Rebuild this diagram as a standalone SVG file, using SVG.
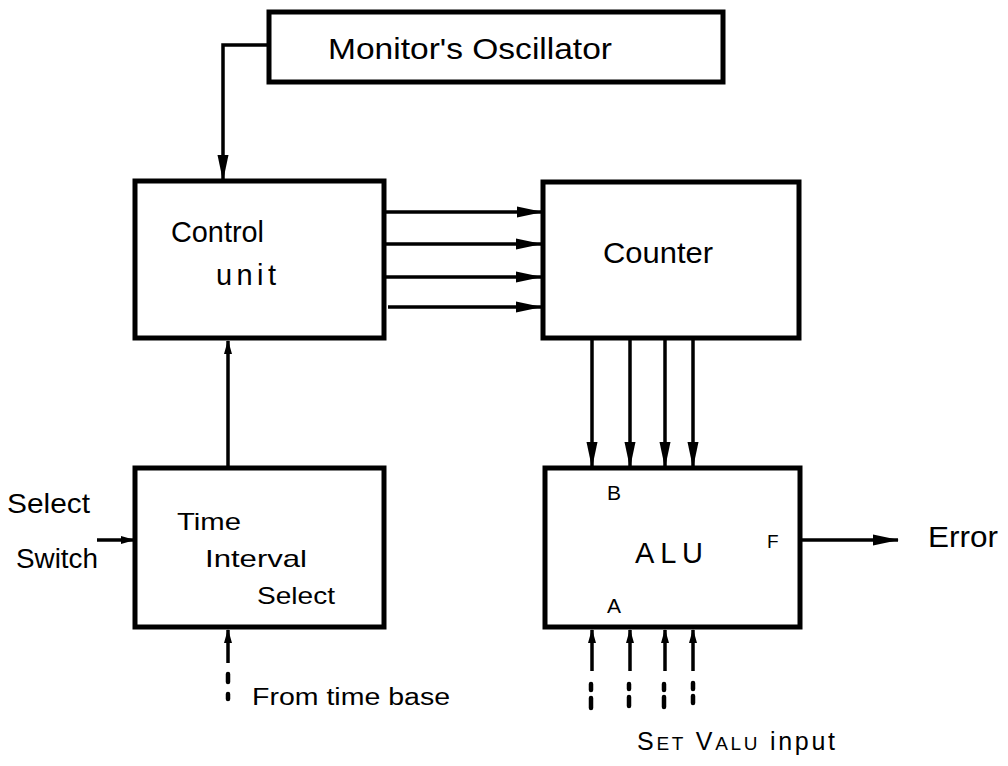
<svg xmlns="http://www.w3.org/2000/svg" width="1008" height="766" viewBox="0 0 1008 766">
<defs>
<marker id="ah" markerWidth="14" markerHeight="8" refX="13" refY="4" orient="auto" markerUnits="userSpaceOnUse" viewBox="0 0 14 8">
<path d="M0,0 L14,4 L0,8 Z" fill="#000"/>
</marker>
<marker id="ahl" markerWidth="26" markerHeight="12" refX="25" refY="6" orient="auto" markerUnits="userSpaceOnUse" viewBox="0 0 26 12">
<path d="M0,0.5 L26,6 L0,11.5 Z" fill="#000"/>
</marker>
</defs>
<style>
.box{fill:#fff;stroke:#000;stroke-width:5}
.ln{fill:none;stroke:#000;stroke-width:3.5}
.dash{fill:none;stroke:#000;stroke-width:4.5;stroke-linecap:round}
text{font-family:"Liberation Sans","DejaVu Sans",sans-serif;fill:#000}
</style>
<rect width="1008" height="766" fill="#fff"/>
<g id="connectors">
<path class="ln" d="M268,45 H223 V180" marker-end="url(#ahl)"/>
<path class="ln" d="M385,212 H542" marker-end="url(#ahl)"/>
<path class="ln" d="M385,244 H541" marker-end="url(#ahl)"/>
<path class="ln" d="M385,277 H541" marker-end="url(#ahl)"/>
<path class="ln" d="M388,307 H541" marker-end="url(#ahl)"/>
<path class="ln" d="M228,468 V341" marker-end="url(#ah)"/>
<path class="ln" d="M592,338 V467" marker-end="url(#ahl)"/>
<path class="ln" d="M630,338 V467" marker-end="url(#ahl)"/>
<path class="ln" d="M665,338 V467" marker-end="url(#ahl)"/>
<path class="ln" d="M693,338 V467" marker-end="url(#ahl)"/>
<path class="ln" d="M802,540 H898" marker-end="url(#ahl)"/>
<path class="ln" d="M97,540 H134" marker-end="url(#ah)"/>
<path class="ln" d="M228,663 V630" marker-end="url(#ah)"/>
<path class="dash" d="M228,674 V682 M228,694 V699"/>
<path class="ln" d="M592,671 V630" marker-end="url(#ah)"/>
<path class="ln" d="M630,671 V630" marker-end="url(#ah)"/>
<path class="ln" d="M665,671 V630" marker-end="url(#ah)"/>
<path class="ln" d="M693,671 V630" marker-end="url(#ah)"/>
<path class="dash" d="M591,684 V690 M591,698 V708 M629,684 V689 M629,697 V706 M664,684 V690 M664,697 V707 M693,683 V689 M693,696 V703"/>
</g>
<g id="monitor">
<rect class="box" x="269" y="12" width="454" height="70"/>
<text x="328" y="59" font-size="30" textLength="284" lengthAdjust="spacingAndGlyphs">Monitor's Oscillator</text>
</g>
<g id="control">
<rect class="box" x="135" y="181" width="249" height="157"/>
<text x="171" y="242" font-size="29" textLength="93" lengthAdjust="spacingAndGlyphs">Control</text>
<text x="216" y="285" font-size="29" textLength="60" lengthAdjust="spacing">unit</text>
</g>
<g id="counter">
<rect class="box" x="543" y="182" width="256" height="156"/>
<text x="603" y="263" font-size="30" textLength="110" lengthAdjust="spacingAndGlyphs">Counter</text>
</g>
<g id="time-interval">
<rect class="box" x="135" y="468" width="249" height="159"/>
<text x="177" y="530" font-size="24" textLength="64" lengthAdjust="spacingAndGlyphs">Time</text>
<text x="205" y="567" font-size="24" textLength="102" lengthAdjust="spacingAndGlyphs">Interval</text>
<text x="257" y="604" font-size="24" textLength="78" lengthAdjust="spacingAndGlyphs">Select</text>
</g>
<g id="alu">
<rect class="box" x="545" y="468" width="255" height="159"/>
<text x="607" y="500" font-size="21">B</text>
<text x="635" y="563" font-size="29" textLength="68" lengthAdjust="spacing">ALU</text>
<text x="767" y="548" font-size="19">F</text>
<text x="607" y="613" font-size="21">A</text>
</g>
<g id="labels">
<text x="7" y="513" font-size="28" textLength="83" lengthAdjust="spacingAndGlyphs">Select</text>
<text x="16" y="568" font-size="27" textLength="82" lengthAdjust="spacingAndGlyphs">Switch</text>
<text x="928" y="547" font-size="29" textLength="70" lengthAdjust="spacingAndGlyphs">Error</text>
<text x="252" y="705" font-size="23" textLength="198" lengthAdjust="spacingAndGlyphs">From time base</text>
<text x="637" y="750" font-size="25" textLength="198" lengthAdjust="spacing">S<tspan font-size="19">ET</tspan> V<tspan font-size="19">ALU</tspan> input</text>
</g>
</svg>
